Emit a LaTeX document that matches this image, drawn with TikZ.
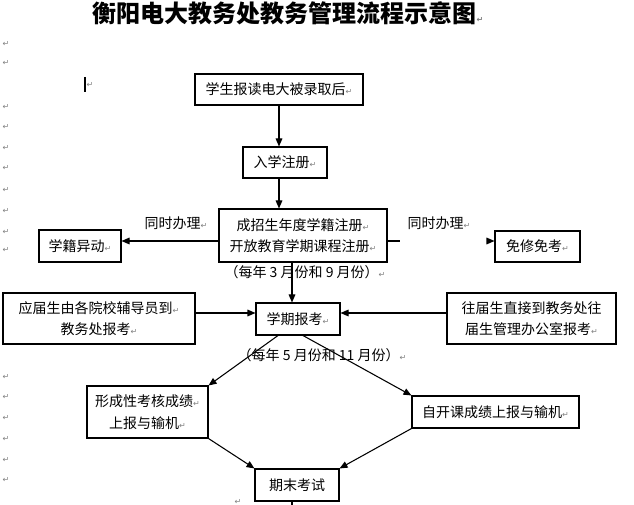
\documentclass[tikz,border=0pt]{standalone}
\usepackage{fontspec}
\setmainfont{Noto Sans CJK SC}
\newfontfamily\markfont{DejaVu Sans}
\usetikzlibrary{arrows.meta}
\newcommand{\rt}{{\markfont\fontsize{6}{6}\selectfont\color{gray}↵}}

\begin{document}
\begin{tikzpicture}[x=0.75pt,y=-0.75pt,
  box/.style 2 args={draw,line width=0.8pt,inner sep=0pt,align=center,
    minimum width=#1*0.75pt,minimum height=#2*0.75pt,font=\fontsize{10.5}{16}\selectfont},
  note/.style={inner sep=0pt,font=\fontsize{10.5}{13}\selectfont},
  arr/.style={line width=0.8pt,-{Triangle[length=6pt,width=5pt]}},
  retmark/.style={inner sep=0pt,font=\markfont\fontsize{6}{6}\selectfont,text=gray}]
  \useasboundingbox (0,0) rectangle (634,505);
  \node[font=\bfseries\fontsize{18}{18}\selectfont] (title) at (288,13) {衡阳电大教务处教务管理流程示意图\rt};

  % boxes
  \node[box={168}{31}] (enrol) at (279,89.5) {学生报读电大被录取后\rt};
  \node[box={84}{31}] (reg) at (285,162.5) {入学注册\rt};
  \node[box={168}{53}] (term) at (303,235.5) {成招生年度学籍注册\rt\\开放教育学期课程注册\rt};
  \node[box={82}{32}] (change) at (80,246) {学籍异动\rt};
  \node[box={85}{31}] (exempt) at (537.5,246.5) {免修免考\rt};
  \node[box={84}{32}] (exam) at (298,319) {学期报考\rt};
  \node[box={192}{51}] (fresh) at (99,318.5) {应届生由各院校辅导员到\rt\\教务处报考\rt};
  \node[box={169}{51}] (former) at (531.5,318.5) {往届生直接到教务处往\\届生管理办公室报考\rt};
  \node[box={121}{52}] (form) at (147.5,412) {形成性考核成绩\rt\\上报与输机\rt};
  \node[box={167}{32}] (self) at (495.5,412) {自开课成绩上报与输机\rt};
  \node[box={84}{32}] (final) at (297,485) {期末考试};

  % labels
  \node[note] (sameL) at (176,223) {同时办理\rt};
  \node[note] (sameR) at (439,223) {同时办理\rt};
  \node[note] (spring) at (305,272) {（每年 3 月份和 9 月份）\rt};
  \node[note] (autumn) at (322,355) {（每年 5 月份和 11 月份）\rt};

  % connectors
  \coordinate (gap) at (487,241);
  \coordinate (bottom) at (292,505);
  \draw[arr] (enrol.south) -- (enrol.south |- reg.north);
  \draw[arr] (enrol.south |- reg.south) -- (enrol.south |- term.north);
  \draw[arr] (term.west |- 0,241) -- (change.east |- 0,241);
  \draw[line width=0.8pt] (term.east |- 0,241) -- ++(12,0);
  \draw[arr] (gap) -- (exempt.west |- gap);
  \draw[arr] (term.south -| bottom) -- (exam.north -| bottom);
  \draw[arr] (fresh.east |- 0,313) -- (exam.west |- 0,313);
  \draw[arr] (former.west |- 0,313) -- (exam.east |- 0,313);
  \draw[arr] (exam.south -| 278,0) -- (form.north east);
  \draw[arr] (exam.south -| 303,0) -- (self.north west);
  \draw[arr] (form.south east) -- (final.north west);
  \draw[arr] (self.south west) -- (final.north east);
  \draw[line width=0.8pt] (final.south -| bottom) -- (bottom);

  % paragraph marks
  \foreach \y in {44,63,107,127,148,168,190,211,232,250,377,397,418,439,460,480}
    \node[retmark] at (6,\y) {↵};
  \node[retmark] (cursormark) at (90,85) {↵};
  \draw[line width=1.5pt] (85,77) -- (85,92);
  \node[retmark] (finalmark) at (238,502) {↵};
\end{tikzpicture}
\end{document}
